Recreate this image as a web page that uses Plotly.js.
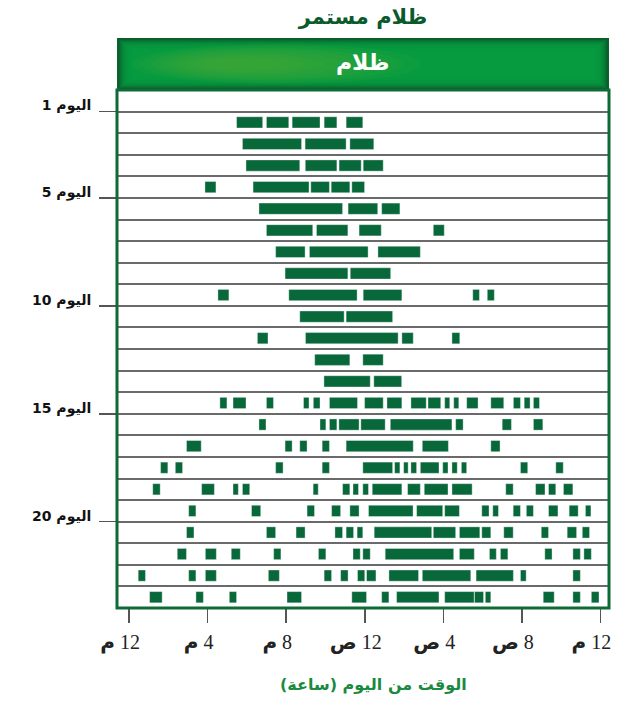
<!DOCTYPE html>
<html>
<head>
<meta charset="utf-8">
<script src="https://cdn.plot.ly/plotly-3.0.1.min.js"></script>
<style>html,body{margin:0;padding:0;background:#fff;}#chart{width:624px;height:702px;}</style>
</head>
<body>
<div id="chart"></div>
<script>
// ---- data ----
const dayNumbers = [1,2,3,4,5,6,7,8,9,10,11,12,13,14,15,16,17,18,19,20,21,22,23];
// sleep bouts per day: flat pairs [start, end] in hours after noon
const boutsByDay = [
  [5.47,6.80, 6.99,8.13, 8.30,9.72, 9.93,10.58, 11.05,11.90],
  [5.77,8.78, 8.96,11.05, 11.24,12.46],
  [5.95,8.69, 8.97,10.58, 10.69,11.82, 11.92,12.94],
  [3.86,4.42, 6.31,9.16, 9.25,10.20, 10.29,11.24, 11.34,11.99],
  [6.61,10.87, 11.15,12.66, 12.86,13.79],
  [6.99,9.35, 9.54,11.14, 11.71,12.84, 15.49,16.05],
  [7.46,8.96, 9.18,12.17, 12.67,14.83],
  [7.94,11.14, 11.26,13.32],
  [4.52,5.08, 8.13,11.61, 11.92,13.89, 17.50,17.84, 18.24,18.60],
  [8.69,10.95, 11.05,13.42],
  [6.53,7.07, 8.98,13.70, 13.89,14.47, 16.44,16.84],
  [9.45,11.24, 11.90,12.94],
  [9.92,12.28, 12.46,13.88],
  [4.62,4.98, 5.29,5.95, 6.99,7.35, 8.88,9.16, 9.38,9.72, 10.20,11.63, 11.99,12.94, 13.13,13.89, 14.35,15.13, 15.22,15.87, 16.07,16.33, 16.53,16.79, 17.19,17.77, 18.42,19.08, 19.57,19.93, 20.12,20.42, 20.59,20.90],
  [6.61,6.97, 9.72,10.02, 10.20,10.58, 10.68,11.71, 11.80,13.04, 13.30,16.44, 16.63,17.01, 19.00,19.47, 20.59,21.07],
  [2.92,3.67, 7.94,8.30, 8.69,9.06, 9.83,10.20, 11.05,14.47, 14.93,16.26, 18.42,18.89],
  [1.60,1.97, 2.35,2.72, 7.46,7.84, 9.83,10.20, 11.90,13.42, 13.52,13.79, 13.98,14.21, 14.35,14.64, 14.83,15.78, 15.97,16.24, 16.44,16.71, 16.92,17.19, 19.93,20.30, 21.73,22.11],
  [1.20,1.58, 3.69,4.34, 5.29,5.56, 5.77,6.14, 9.37,9.63, 10.87,11.24, 11.40,11.68, 11.90,12.19, 12.38,13.89, 14.18,14.83, 15.03,16.24, 16.44,17.47, 19.18,19.56, 20.70,21.18, 21.36,21.73, 22.12,22.60],
  [3.03,3.40, 6.23,6.70, 9.06,9.44, 10.31,10.77, 11.24,11.71, 12.19,14.46, 14.64,15.97, 16.07,16.82, 17.96,18.33, 18.52,18.81, 19.56,19.93, 20.23,20.59, 21.36,21.84, 22.41,22.87, 23.24,23.52],
  [2.92,3.30, 6.99,7.46, 8.50,8.96, 10.48,10.87, 11.05,11.43, 11.61,11.90, 12.48,15.41, 15.49,16.63, 16.82,17.86, 17.96,18.42, 19.08,19.56, 20.99,21.36, 22.31,22.79, 23.08,23.45],
  [2.45,2.92, 3.88,4.44, 5.20,5.66, 7.36,7.73, 9.64,10.02, 11.40,11.77, 11.90,12.28, 13.04,16.53, 16.82,17.58, 18.35,18.70, 18.91,19.29, 21.17,21.54, 22.60,22.98, 23.16,23.54],
  [0.46,0.83, 3.03,3.40, 3.88,4.44, 7.09,7.65, 9.93,10.31, 10.77,11.15, 11.63,12.00, 12.09,12.57, 13.23,14.74, 14.93,17.40, 17.67,19.57, 19.93,20.22, 22.60,22.98],
  [1.04,1.68, 3.40,3.78, 5.10,5.47, 8.04,8.78, 11.34,12.09, 12.86,13.23, 13.62,15.78, 16.07,17.57, 17.59,18.05, 18.14,18.42, 21.09,21.65, 22.60,22.98, 23.54,23.93]
];
const xTickVals = [0,4,8,12,16,20,24];
const xTickNums = ['12','4','8','12','4','8','12'];
const xTickSuffix = ['م','م','م','ص','ص','ص','م'];
const yTickVals = [1,5,10,15,20];
const yTickText = ['اليوم 1','اليوم 5','اليوم 10','اليوم 15','اليوم 20'];
const chartTitle = 'ظلام مستمر';
const headerText = 'ظلام';
const xTitle = 'الوقت من اليوم (ساعة)';

// ---- build bars ----
const by = [], bx = [], bbase = [];
dayNumbers.forEach((d, i) => {
  const b = boutsByDay[i];
  for (let k = 0; k < b.length; k += 2) {
    by.push(d + 0.5);
    bbase.push(b[k]);
    bx.push(b[k + 1] - b[k]);
  }
});

const xTickText = xTickVals.map((v, i) => '<b>' + xTickSuffix[i] + '</b>\u200E ' + xTickNums[i]);

const PH = 518, PW = 492;
const py = px => px / PH, pxw = px => px / PW;

const trace = {
  type: 'bar', orientation: 'h',
  y: by, x: bx, base: bbase, width: 0.52,
  marker: {color: '#08683a', line: {color: 'rgba(255,255,255,0.6)', width: 0.6}},
  hoverinfo: 'skip', showlegend: false
};

const headerTop = 1 + py(52);
const shapes = [
  {type:'rect', xref:'paper', yref:'paper', x0:0, x1:1, y0:1, y1:headerTop, fillcolor:'#0a5f2d', line:{width:0}, layer:'above'}
];
for (let k = 1; k <= 9; k++) {
  const ix = 1 + k * 1.6, iy = 1 + k * 1.2;
  shapes.push({type:'rect', xref:'paper', yref:'paper', x0:pxw(ix), x1:1-pxw(ix), y0:1+py(iy), y1:headerTop-py(iy),
    fillcolor:'rgba(6,160,66,0.32)', line:{width:0}, layer:'above'});
}
for (let k = 0; k < 8; k++) {
  shapes.push({type:'circle', xref:'paper', yref:'paper', x0:0.03 + k*0.02, x1:0.62 - k*0.04, y0:1+py(6 + k*2), y1:headerTop-py(6 + k*2),
    fillcolor:'rgba(100,180,55,0.09)', line:{width:0}, layer:'above'});
}
shapes.push({type:'rect', xref:'paper', yref:'paper', x0:0, x1:1, y0:0, y1:1, fillcolor:'rgba(0,0,0,0)', line:{color:'#0e6b36', width:3}, layer:'above'});

const layout = {
  width: 624, height: 702,
  margin: {l:117, r:15, t:90, b:94},
  paper_bgcolor: '#ffffff', plot_bgcolor: '#ffffff',
  barmode: 'overlay',
  title: {text: '<b>' + chartTitle + '</b>', x: 0.5, xref: 'paper', xanchor: 'center',
          y: 1 - 17/702, yref: 'container', yanchor: 'middle',
          font: {family: 'DejaVu Sans', size: 21, color: '#0b5a2b'}},
  xaxis: {
    range: [-0.62, 24.44], showgrid: false, zeroline: false, showline: false,
    tickmode: 'array', tickvals: xTickVals, ticktext: xTickText,
    ticks: 'outside', ticklen: 14, tickwidth: 1.5, tickcolor: '#555',
    ticklabelshift: -9, ticklabelstandoff: 2,
    tickfont: {family: 'Liberation Serif, DejaVu Sans', size: 20, color: '#222'},
    fixedrange: true
  },
  yaxis: {
    range: [24, 0], zeroline: false, showline: false,
    tickmode: 'array', tickvals: yTickVals, ticktext: yTickText,
    ticks: 'outside', ticklen: 17, tickwidth: 1.5, tickcolor: '#555',
    ticklabelstandoff: 5, ticklabelshift: 6,
    tickfont: {family: 'DejaVu Sans', size: 14, color: '#111', weight: 'bold'},
    showgrid: true, gridcolor: '#6a6a6a', gridwidth: 2,
    minor: {dtick: 1, tick0: 0, showgrid: true, gridcolor: '#6a6a6a', gridwidth: 2, ticks: ''},
    fixedrange: true
  },
  shapes: shapes,
  annotations: [
    {text: '<b>' + headerText + '</b>', xref: 'paper', yref: 'paper', x: 0.5, y: 1 + py(28),
     xanchor: 'center', yanchor: 'middle', showarrow: false,
     font: {family: 'DejaVu Sans', size: 22, color: '#ffffff'}},
    {text: '<b>' + xTitle + '</b>', xref: 'paper', yref: 'paper', x: 0.522, y: -py(76),
     xanchor: 'center', yanchor: 'middle', showarrow: false,
     font: {family: 'DejaVu Sans', size: 16, color: '#1a8a40'}}
  ]
};

Plotly.newPlot('chart', [trace], layout, {displayModeBar: false, staticPlot: true});
</script>
</body>
</html>
